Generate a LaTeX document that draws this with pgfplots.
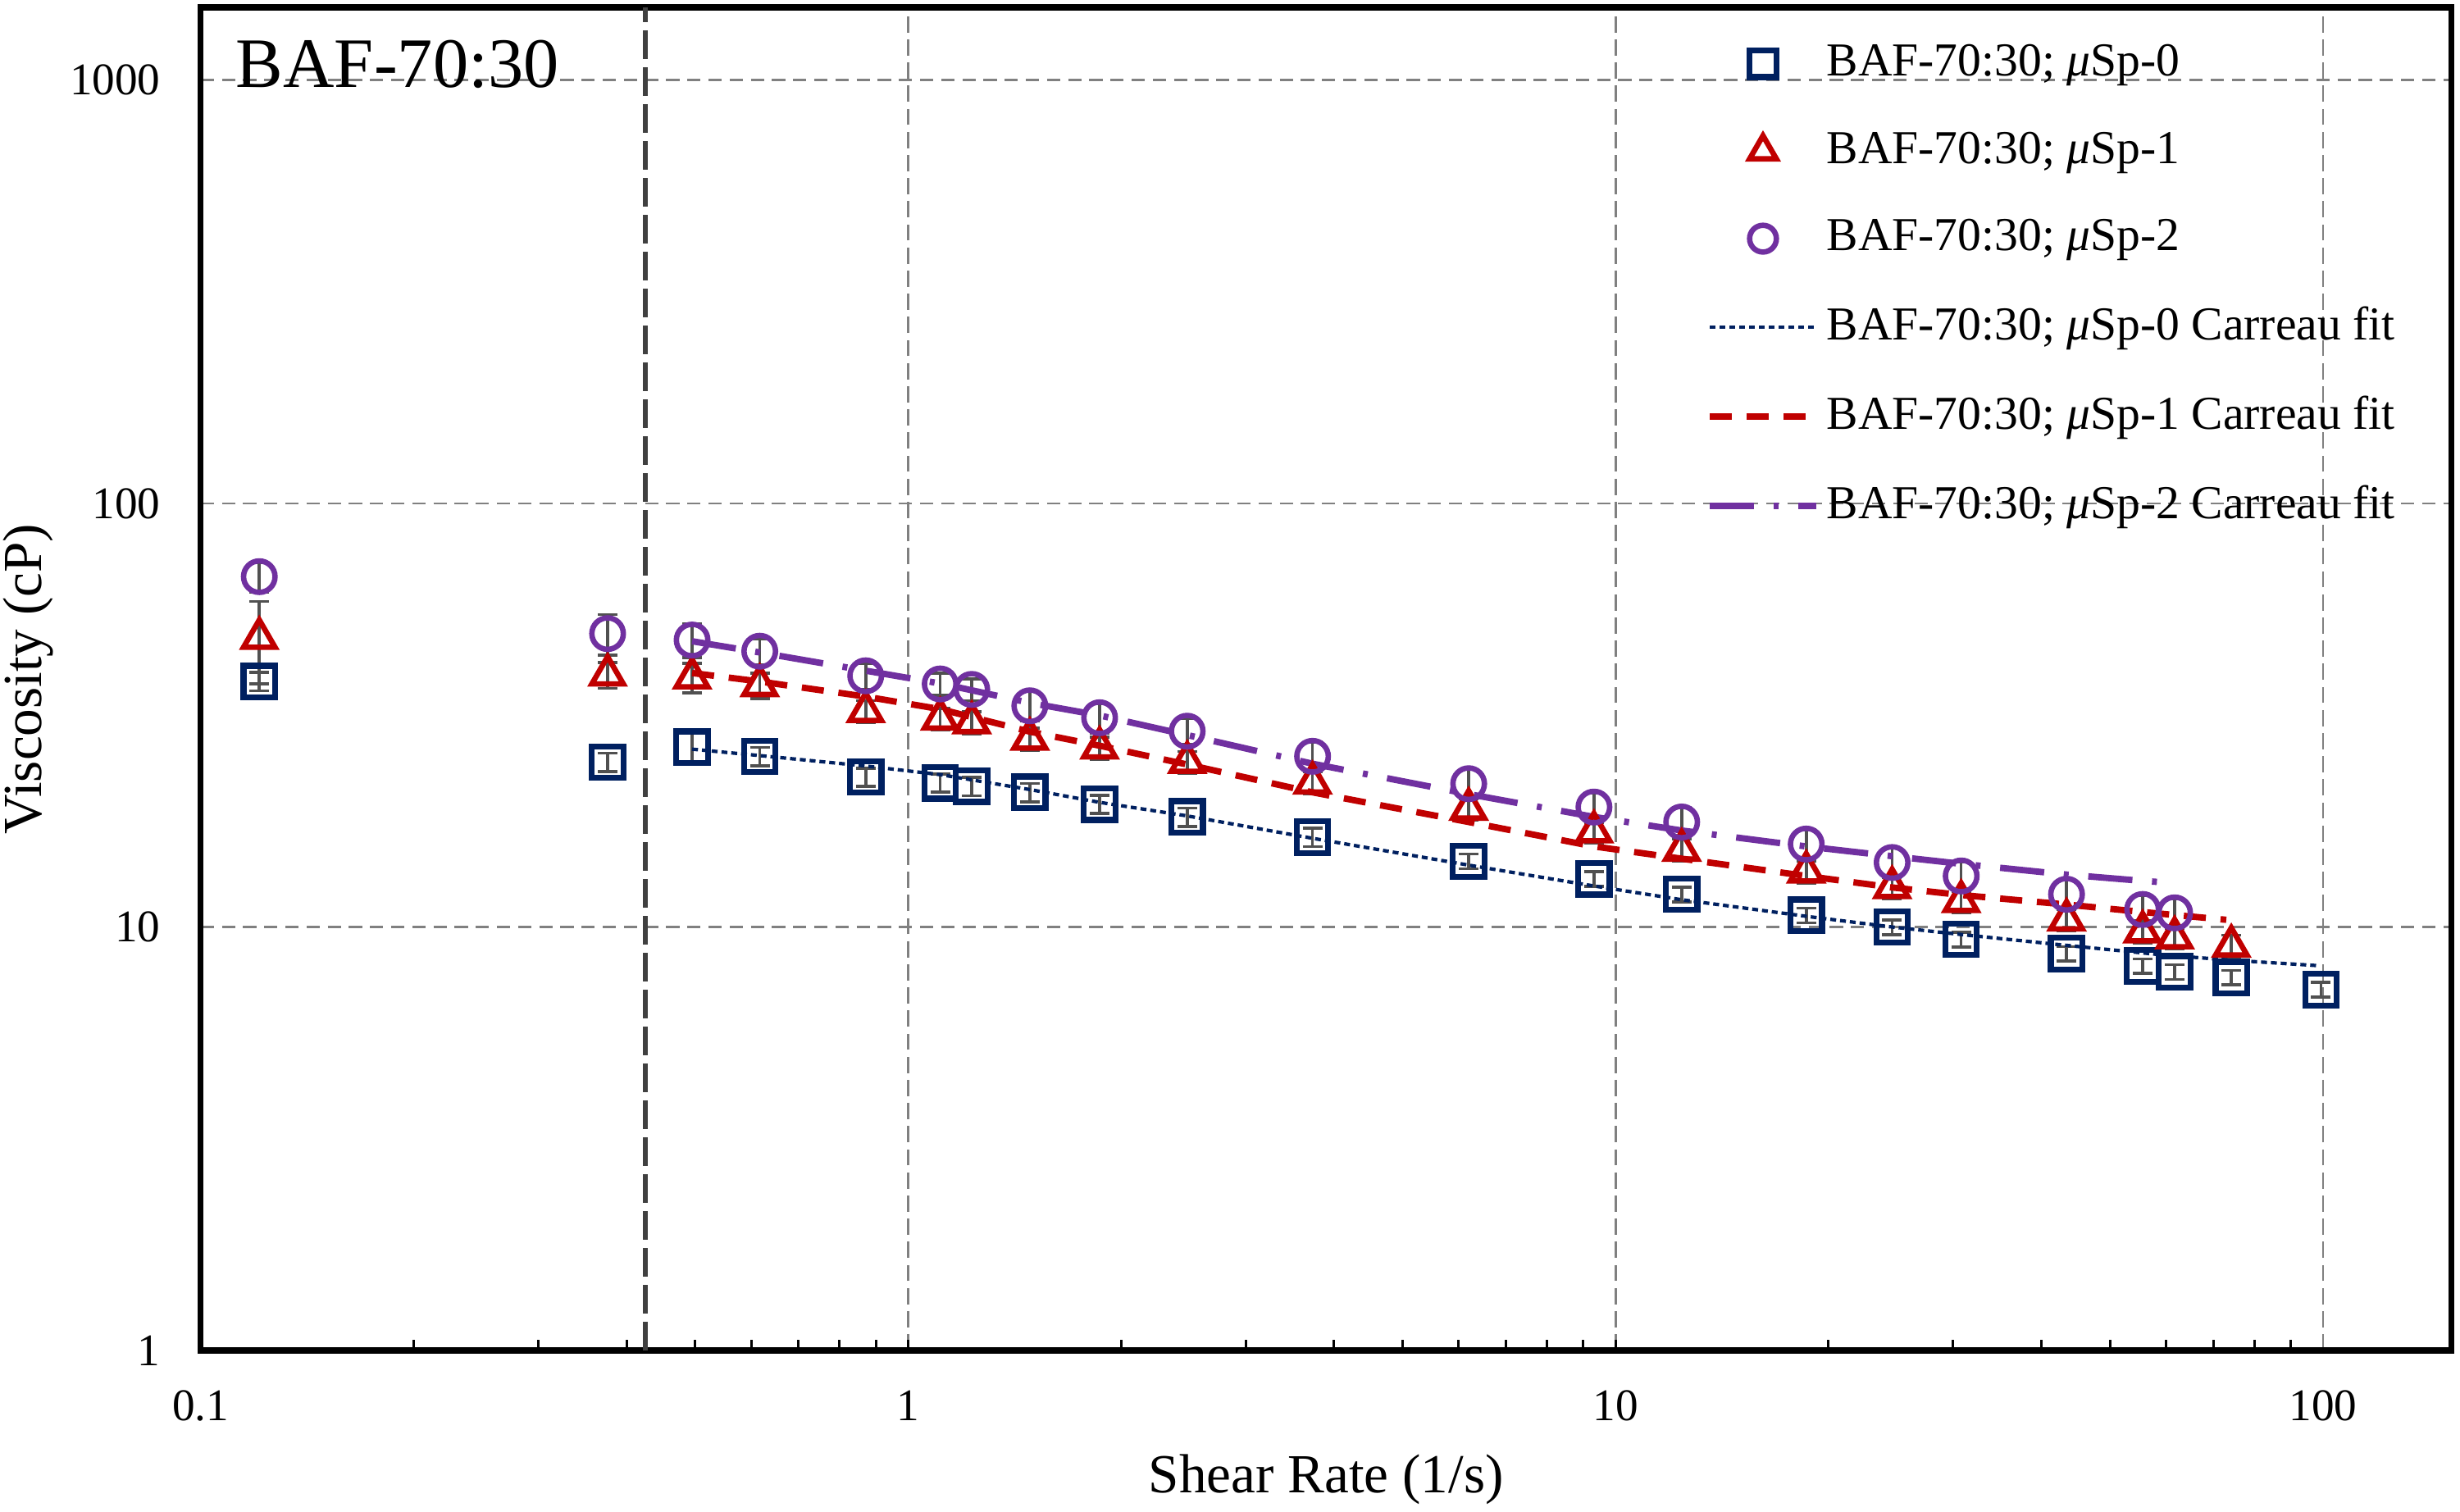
\documentclass[border=0pt]{standalone}
\usepackage{fontspec}
\setmainfont{Liberation Serif}
\usepackage{pgfplots}
\usepackage{pgfplotstable}
\pgfplotsset{compat=1.18}
\definecolor{navy}{HTML}{002060}
\definecolor{cred}{HTML}{C00000}
\definecolor{cpurple}{HTML}{7030A0}
\definecolor{ebar}{HTML}{505050}
\definecolor{gridgray}{HTML}{808080}

\pgfplotstableread{
x y e
0.121 38.0 0.05
0.376 24.5 0.05
0.495 26.6 0.08
0.617 25.3 0.05
0.871 22.6 0.05
1.11 21.9 0.05
1.23 21.5 0.05
1.486 20.8 0.05
1.865 19.5 0.05
2.48 18.2 0.05
3.73 16.3 0.05
6.20 14.3 0.04
9.32 13.0 0.04
12.4 11.95 0.04
18.6 10.66 0.04
24.6 10.0 0.04
30.8 9.35 0.04
43.4 8.65 0.04
55.6 8.09 0.04
61.7 7.84 0.04
74.2 7.60 0.04
99.3 7.11 0.04
}\sqdata

\pgfplotstableread{
x y e
0.121 48.1 0.22
0.376 39.4 0.07
0.495 38.8 0.08
0.617 37.2 0.07
0.871 32.3 0.06
1.11 31.0 0.06
1.23 30.4 0.06
1.486 27.8 0.06
1.865 26.5 0.06
2.48 24.5 0.06
3.73 21.9 0.06
6.20 19.0 0.06
9.32 16.8 0.06
12.4 15.2 0.06
18.6 13.5 0.06
24.6 12.4 0.06
30.8 11.5 0.06
43.4 10.4 0.06
55.6 9.75 0.06
61.7 9.44 0.06
74.2 9.02 0.06
}\tridata

\pgfplotstableread{
x y e
0.121 67.2 0.08
0.376 49.3 0.11
0.495 47.6 0.09
0.617 44.8 0.07
0.871 39.2 0.07
1.11 37.5 0.06
1.23 36.4 0.06
1.486 33.3 0.08
1.865 31.2 0.08
2.48 29.0 0.07
3.73 25.3 0.08
6.20 21.8 0.08
9.32 19.2 0.08
12.4 17.7 0.08
18.6 15.7 0.08
24.6 14.2 0.08
30.8 13.2 0.08
43.4 11.95 0.08
55.6 11.0 0.08
61.7 10.8 0.08
}\cirdata

\pgfplotstableread{
x y
0.495 26.3
0.617 25.4
0.871 24.0
1.11 22.9
1.49 21.1
1.865 19.7
2.48 18.3
3.73 16.2
6.2 14.0
9.32 12.5
12.4 11.6
18.6 10.6
24.6 10.0
30.8 9.6
43.4 9.05
59.0 8.6
74.2 8.35
99.0 8.1
}\fitzero

\pgfplotstableread{
x y
0.495 39.8
0.617 38.0
0.871 35.0
1.11 32.7
1.49 28.9
1.865 26.8
2.48 24.2
3.73 20.8
6.2 17.7
9.32 15.5
12.4 14.5
18.6 13.2
24.6 12.4
30.8 11.9
43.4 11.3
55.6 10.85
73.0 10.4
}\fitone

\pgfplotstableread{
x y
0.495 47.3
0.617 44.5
0.871 40.3
1.11 37.6
1.49 33.8
1.865 31.6
2.48 28.4
3.73 24.3
6.2 20.6
9.32 18.2
12.4 16.9
18.6 15.5
24.6 14.7
30.8 14.1
43.4 13.3
55.6 12.85
61.7 12.7
}\fittwo

\pgfplotsset{
  mlegend/.style={legend image code/.code={%
    \path (0cm,-0.1cm) (0.76cm,0.1cm);
    \draw[##1,/tikz/only marks,every mark/.append style={scale=0.85}] plot coordinates {(0.38cm,0cm)};}},
  llegend/.style={legend image code/.code={%
    \draw[##1] (0cm,0cm) -- (0.76cm,0cm);}},
  ebars/.style={error bars/.cd, y dir=both, y explicit relative,
    error bar style={ebar, line width=0.6pt, solid},
    error mark options={rotate=90, ebar, mark size=2pt, line width=0.6pt, solid}},
}

\begin{document}
\begin{tikzpicture}
\begin{axis}[
  at={(0pt,0pt)}, anchor=south west,
  scale only axis, width=457.5pt, height=273pt,
  xmode=log, ymode=log,
  xmin=0.1, xmax=152, ymin=1, ymax=1485,
  xtick={0.1,1,10,100}, xticklabels={0.1,1,10,100},
  ytick={1,10,100,1000}, yticklabels={1,10,100,1000},
  /pgf/number format/assume math mode=true,
  major tick length=0pt, minor tick length=2.2pt,
  xtick pos=bottom, ytick pos=left,
  yminorticks=false,
  minor tick style={black, line width=0.5pt},
  xmajorgrids, ymajorgrids,
  major x grid style={gridgray, line width=0.45pt, dash pattern=on 3.3pt off 1.4pt},
  major y grid style={gridgray, line width=0.45pt, dash pattern=on 2.7pt off 1.6pt},
  axis line style={line width=1.2pt},
  tick label style={font=\fontsize{9.2}{11}\selectfont, inner sep=0pt},
  yticklabel style={anchor=east, xshift=-8pt},
  xticklabel style={anchor=north, yshift=-8pt},
  xlabel={Shear Rate (1/s)},
  ylabel={Viscosity (cP)},
  xlabel style={font=\fontsize{11.2}{13}\selectfont, at={(axis description cs:0.5,-0.096)}, anchor=center},
  ylabel style={font=\fontsize{11.2}{13}\selectfont, at={(axis description cs:-0.0767,0.5)}, anchor=center, rotate=0},
  legend style={at={(rel axis cs:0.669,1)}, anchor=north west, yshift=-5.5pt,
    draw=none, fill=none, inner sep=0pt, outer sep=0pt,
    nodes={inner xsep=1.5pt},
    font=\fontsize{9.6}{11.5}\selectfont, row sep=5.9pt},
  legend cell align=left,
]
\addplot[only marks, mark=square, mark size=3.2pt, mark options={solid, navy, line width=1.2pt}, mlegend, ebars]
  table[x=x, y=y, y error=e]{\sqdata};
\addlegendentry{BAF-70:30; \textit{μ}Sp-0}
\addplot[only marks, mark=triangle, mark size=3.7pt, mark options={solid, cred, line width=1.1pt}, mlegend, ebars]
  table[x=x, y=y, y error=e]{\tridata};
\addlegendentry{BAF-70:30; \textit{μ}Sp-1}
\addplot[only marks, mark=o, mark size=3.2pt, mark options={solid, cpurple, line width=1.1pt}, mlegend, ebars]
  table[x=x, y=y, y error=e]{\cirdata};
\addlegendentry{BAF-70:30; \textit{μ}Sp-2}
\addplot[navy, line width=0.7pt, dash pattern=on 1.2pt off 0.8pt, no marks, llegend]
  table[x=x, y=y]{\fitzero};
\addlegendentry{BAF-70:30; \textit{μ}Sp-0 Carreau fit}
\addplot[cred, line width=1.3pt, dash pattern=on 4.5pt off 3pt, no marks, llegend]
  table[x=x, y=y]{\fitone};
\addlegendentry{BAF-70:30; \textit{μ}Sp-1 Carreau fit}
\addplot[cpurple, line width=1.3pt, dash pattern=on 9pt off 4pt on 1pt off 4pt, no marks, llegend]
  table[x=x, y=y]{\fittwo};
\addlegendentry{BAF-70:30; \textit{μ}Sp-2 Carreau fit}
\addplot[black!75, line width=0.9pt, dash pattern=on 5.8pt off 1.7pt, no marks, forget plot]
  coordinates {(0.425,1) (0.425,1485)};
\node[anchor=base west, inner sep=0pt, xshift=7pt, yshift=-16.3pt, font=\fontsize{14.4}{17}\selectfont] at (rel axis cs:0,1) {BAF-70:30};
\end{axis}
\pgfresetboundingbox
\path (-40.8pt,-32.8pt) rectangle (459.2pt,274.5pt);
\end{tikzpicture}
\end{document}
